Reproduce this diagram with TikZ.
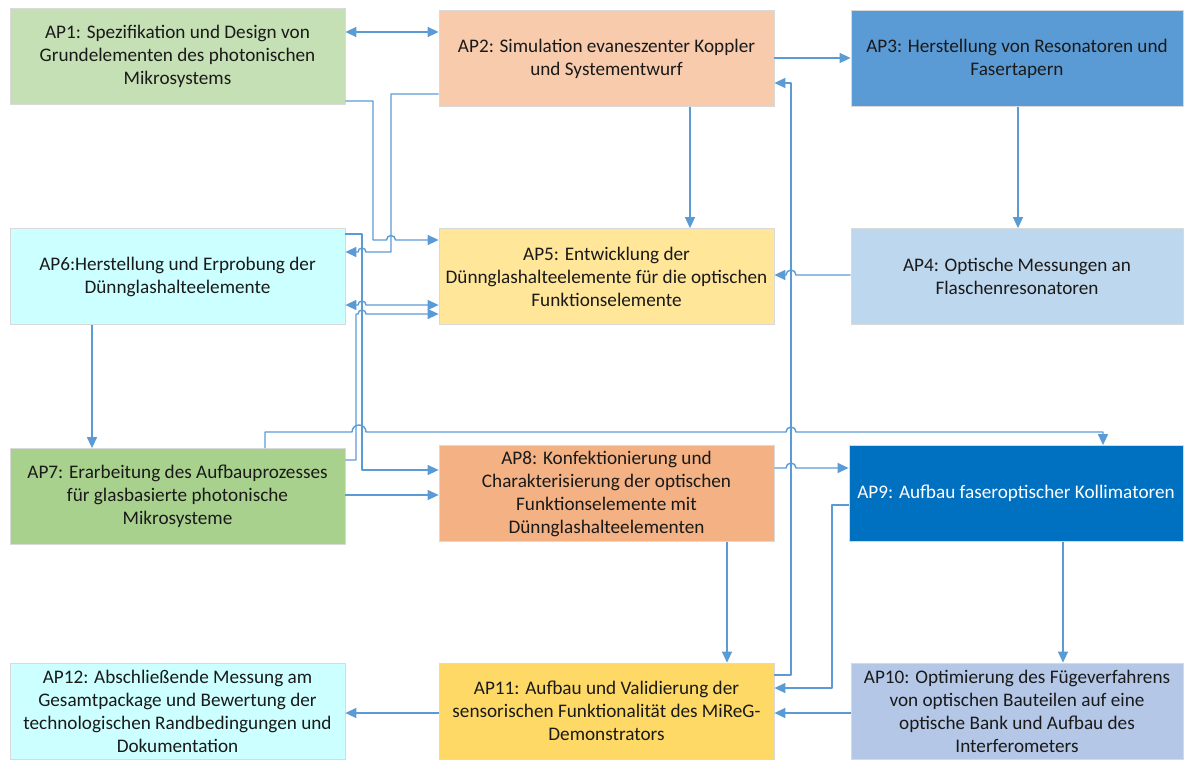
\documentclass[tikz,border=0pt]{standalone}
\usepackage{fontspec}
\setmainfont{Carlito}
\usetikzlibrary{arrows.meta}
\definecolor{cAPone}{HTML}{C5E0B4}
\definecolor{cAPtwo}{HTML}{F8CBAD}
\definecolor{cAPthree}{HTML}{5B9BD5}
\definecolor{cAPfour}{HTML}{BDD7EE}
\definecolor{cAPfive}{HTML}{FFE699}
\definecolor{cAPsix}{HTML}{CCFFFF}
\definecolor{cAPseven}{HTML}{A9D18E}
\definecolor{cAPeight}{HTML}{F4B183}
\definecolor{cAPnine}{HTML}{0070C0}
\definecolor{cAPten}{HTML}{B4C7E7}
\definecolor{cAPeleven}{HTML}{FFD966}
\definecolor{lineblue}{HTML}{5B9BD5}
\definecolor{txt}{HTML}{1A1A1A}
\tikzset{
  apbox/.style={draw=black!15, line width=0.8pt, minimum width=335pt, minimum height=96pt,
    inner sep=0pt, align=center, text=txt, font=\fontsize{19.2}{23}\selectfont},
  conn/.style={draw=lineblue, line width=1.4pt, line join=round},
  arr/.style={conn, -{Triangle[length=11pt,width=10pt]}},
  darr/.style={conn, {Triangle[length=11pt,width=10pt]}-{Triangle[length=11pt,width=10pt]}},
}
\begin{document}
\begin{tikzpicture}[x=1pt,y=-1pt]
\useasboundingbox (0,0) rectangle (1184,766);
% boxes
\node[apbox, fill=cAPone] (ap1) at (177.5,56) {AP1: Spezifikation und Design von\\Grundelementen des photonischen\\Mikrosystems};
\node[apbox, fill=cAPtwo] (ap2) at (606.5,58.5) {AP2: Simulation evaneszenter Koppler\\und Systementwurf};
\node[apbox, fill=cAPthree, minimum width=332pt] (ap3) at (1017,58.5) {AP3: Herstellung von Resonatoren und\\Fasertapern};
\node[apbox, fill=cAPsix] (ap6) at (177.5,276.5) {AP6:Herstellung und Erprobung der\\Dünnglashalteelemente};
\node[apbox, fill=cAPfive] (ap5) at (606.5,276.5) {AP5: Entwicklung der\\Dünnglashalteelemente für die optischen\\Funktionselemente};
\node[apbox, fill=cAPfour, minimum width=332pt] (ap4) at (1017,276.5) {AP4: Optische Messungen an\\Flaschenresonatoren};
\node[apbox, fill=cAPseven] (ap7) at (177.5,496.5) {AP7: Erarbeitung des Aufbauprozesses\\für glasbasierte photonische\\Mikrosysteme};
\node[apbox, fill=cAPeight] (ap8) at (606.5,493.5) {AP8: Konfektionierung und\\Charakterisierung der optischen\\Funktionselemente mit\\Dünnglashalteelementen};
\node[apbox, fill=cAPnine, text=white, minimum width=334pt] (ap9) at (1016,493.5) {AP9: Aufbau faseroptischer Kollimatoren};
\node[apbox, fill=cAPsix] (ap12) at (177.5,711) {AP12: Abschließende Messung am\\Gesamtpackage und Bewertung der\\technologischen Randbedingungen und\\Dokumentation};
\node[apbox, fill=cAPeleven] (ap11) at (606.5,711) {AP11: Aufbau und Validierung der\\sensorischen Funktionalität des MiReG-\\Demonstrators};
\node[apbox, fill=cAPten, minimum width=332pt] (ap10) at (1017,711) {AP10: Optimierung des Fügeverfahrens\\von optischen Bauteilen auf eine\\optische Bank und Aufbau des\\Interferometers};
% connectors
\draw[darr] (ap1.east |- 0,32) -- (ap2.west |- 0,32);
\draw[arr] (ap2.east |- 0,58) -- (ap3.west |- 0,58);
% AP1 -> AP5
\draw[arr] (ap1.east |- 0,101) -- (373,101) -- (373,240) -- (386.5,240)
  arc[start angle=180,end angle=0,radius=4.5pt] -- (ap5.west |- 0,240);
% AP2 -> AP6
\draw[arr] (ap2.west |- 0,94) -- (391,94) -- (391,252) -- (366,252)
  arc[start angle=0,end angle=180,radius=4pt] -- (ap6.east |- 0,252);
% AP6 -> AP8
\draw[arr] (ap6.east |- 0,234) -- (362,234) -- (362,470) -- (ap8.west |- 0,470);
% AP6 <-> AP5
\draw[darr] (ap6.east |- 0,305) -- (358,305)
  arc[start angle=180,end angle=0,radius=4pt] -- (ap5.west |- 0,305);
% AP7 -> AP5
\draw[arr] (ap7.east |- 0,460) -- (356,460) -- (356,314) -- (358,314)
  arc[start angle=180,end angle=0,radius=4pt] -- (ap5.west |- 0,314);
% AP7 -> AP9
\draw[arr] (ap7.north -| 265,0) -- (265,432) -- (352,432)
  arc[start angle=180,end angle=0,radius=7pt] -- (786,432)
  arc[start angle=180,end angle=0,radius=5pt] -- (1103,432) -- (ap9.north -| 1103,0);
% AP7 -> AP8
\draw[arr] (ap7.east |- 0,495) -- (ap8.west |- 0,495);
% AP6 -> AP7
\draw[arr] (ap6.south -| 92,0) -- (ap7.north -| 92,0);
% AP2 -> AP5
\draw[arr] (ap2.south -| 690,0) -- (ap5.north -| 690,0);
% AP3 -> AP4
\draw[arr] (ap3.south -| 1018,0) -- (ap4.north -| 1018,0);
% AP4 -> AP5
\draw[arr] (ap4.west |- 0,275) -- (796,275)
  arc[start angle=0,end angle=180,radius=5pt] -- (ap5.east |- 0,275);
% AP11 -> AP2
\draw[arr] (ap11.east |- 0,675) -- (791,675) -- (791,83) -- (ap2.east |- 0,83);
% AP8 -> AP9
\draw[arr] (ap8.east |- 0,468) -- (786,468)
  arc[start angle=180,end angle=0,radius=5pt] -- (ap9.west |- 0,468);
% AP9 -> AP11
\draw[arr] (ap9.west |- 0,505) -- (832,505) -- (832,688) -- (ap11.east |- 0,688);
% AP8 -> AP11
\draw[arr] (ap8.south -| 727,0) -- (ap11.north -| 727,0);
% AP9 -> AP10
\draw[arr] (ap9.south -| 1063,0) -- (ap10.north -| 1063,0);
% AP10 -> AP11
\draw[arr] (ap10.west |- 0,713) -- (ap11.east |- 0,713);
% AP11 -> AP12
\draw[arr] (ap11.west |- 0,713) -- (ap12.east |- 0,713);
\end{tikzpicture}
\end{document}
